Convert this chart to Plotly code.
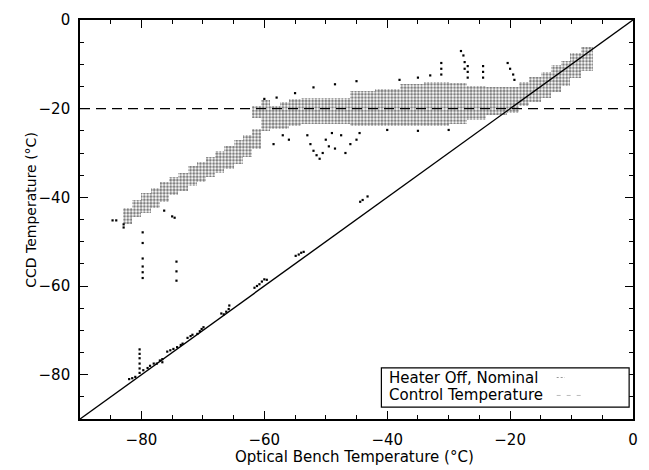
import plotly.graph_objects as go

# ---------------- data ----------------
# dense band of CCD vs optical-bench temperature, read as column blocks
band_x0 = [-83.0, -81.5, -80.0, -78.5, -77.0, -75.5, -74.0, -72.5, -71.0, -69.5,
           -68.0, -66.5, -65.0, -63.5, -62.0, -62.0, -60.5, -59.0, -57.5, -56.0,
           -54.0, -46.0, -42.0, -38.0, -34.0, -30.0, -27.0, -24.0, -20.5, -18.5,
           -17.0, -15.0, -13.4, -11.8, -10.2, -8.5]
band_x1 = [-81.5, -80.0, -78.5, -77.0, -75.5, -74.0, -72.5, -71.0, -69.5, -68.0,
           -66.5, -65.0, -63.5, -62.0, -60.5, -60.5, -59.0, -57.5, -56.0, -54.0,
           -46.0, -42.0, -38.0, -34.0, -30.0, -27.0, -24.0, -20.5, -18.5, -17.0,
           -15.0, -13.4, -11.8, -10.2, -8.5, -6.5]
band_lo = [-46.0, -44.5, -43.5, -42.5, -41.0, -39.5, -38.5, -37.5, -36.5, -35.5,
           -34.5, -33.5, -32.5, -31.0, -29.0, -22.0, -25.0, -24.5, -24.5, -24.0,
           -23.5, -24.0, -24.0, -24.0, -24.0, -23.5, -22.5, -21.5, -21.0, -19.5,
           -18.5, -17.5, -16.2, -14.8, -13.0, -11.5]
band_hi = [-42.5, -40.5, -39.0, -37.8, -36.5, -35.5, -34.5, -33.0, -32.0, -31.0,
           -29.5, -28.5, -27.0, -26.0, -24.5, -19.5, -18.0, -19.5, -18.5, -17.8,
           -17.5, -16.0, -15.5, -14.5, -14.0, -14.2, -14.8, -15.0, -15.2, -14.0,
           -12.8, -11.8, -10.2, -9.2, -7.5, -6.2]

# isolated samples (heater off near the diagonal, outliers and spikes)
pts_x = [-82.0, -81.5, -81.0, -80.3, -80.3, -80.3, -80.3, -80.3, -80.3, -79.7,
         -79.0, -78.6, -78.0, -77.5, -77.0, -76.6, -76.6, -75.8, -75.3, -74.8,
         -74.2, -73.6, -73.3, -72.5, -72.0, -71.7, -70.9, -70.5, -70.2, -69.9,
         -67.0, -66.6, -66.2, -65.8, -65.7, -61.6, -61.2, -60.8, -60.4, -60.0,
         -59.6, -54.9, -54.4, -54.0, -53.6, -44.4, -44.0, -43.2,
         -79.8, -79.8, -79.8, -79.8, -79.8, -79.8, -74.3, -74.3, -74.3,
         -84.7, -84.1, -82.9, -82.9, -76.3, -75.0, -74.6,
         -31.2, -31.2, -31.2, -28.0, -27.6, -27.4, -27.4, -26.9, -26.9, -26.9,
         -24.4, -24.4, -24.4, -20.4, -20.0, -19.5, -19.3, -45.0, -48.5, -52.0,
         -58.0, -60.0, -55.0, -38.0, -35.0, -33.0,
         -53.0, -52.5, -52.0, -51.5, -51.0, -50.5, -50.0, -49.5, -49.0, -48.5,
         -47.5, -46.8, -46.0, -45.0, -44.5, -56.0, -57.0, -58.5, -35.0, -30.0,
         -40.0]
pts_y = [-81.0, -80.8, -80.5, -79.6, -78.6, -77.5, -76.3, -75.3, -74.3, -79.0,
         -78.5, -78.0, -77.5, -77.5, -76.8, -76.5, -77.2, -74.8, -74.5, -74.2,
         -73.8, -73.3, -73.0, -71.7, -71.3, -71.0, -70.8, -70.2, -69.7, -69.3,
         -66.2, -66.4, -65.8, -65.2, -64.4, -60.4, -60.0, -59.6, -59.0, -58.5,
         -58.6, -53.2, -52.9, -52.5, -52.3, -41.0, -40.6, -39.8,
         -47.9, -50.3, -53.8, -55.6, -56.9, -58.2, -54.5, -56.7, -58.8,
         -45.2, -45.2, -46.1, -46.8, -43.0, -44.3, -44.6,
         -9.7, -11.0, -12.3, -7.0, -8.0, -9.5, -11.0, -10.4, -11.7, -13.0,
         -10.4, -11.7, -13.0, -9.7, -11.0, -12.3, -13.5, -13.8, -14.5, -15.2,
         -17.5, -17.8, -16.5, -13.5, -13.0, -12.5,
         -26.0, -28.0, -29.5, -30.5, -31.3, -30.0, -27.0, -28.5, -25.5, -29.0,
         -26.0, -30.0, -28.0, -27.0, -25.5, -27.0, -26.0, -28.0, -25.0, -24.8,
         -24.8]

control_temp = -20.0
axis_range = [-90, 0]
tick_vals = [-80, -60, -40, -20, 0]
tick_text = ["\u221280", "\u221260", "\u221240", "\u221220", "0"]
legend_labels = ["Heater Off, Nominal", "Control Temperature"]

FONT = "DejaVu Sans, Verdana, sans-serif"

fig = go.Figure()

# band as dot-patterned blocks
fig.add_trace(go.Bar(
    x=[(a + b) / 2 for a, b in zip(band_x0, band_x1)],
    width=[b - a for a, b in zip(band_x0, band_x1)],
    base=band_lo,
    y=[h - l for l, h in zip(band_lo, band_hi)],
    marker=dict(color="rgba(0,0,0,0)", line=dict(width=0),
                pattern=dict(shape=".", fgcolor="black", bgcolor="rgba(0,0,0,0)",
                             size=3.3, solidity=0.55, fillmode="overlay")),
    showlegend=False, hoverinfo="skip"))

fig.add_trace(go.Scatter(x=pts_x, y=pts_y, mode="markers",
                         marker=dict(symbol="square", size=2.2, color="black",
                                     line=dict(width=0)),
                         showlegend=False))

# y = x reference
fig.add_trace(go.Scatter(x=axis_range, y=axis_range, mode="lines",
                         line=dict(color="black", width=1.4), showlegend=False))
# control temperature
fig.add_trace(go.Scatter(x=axis_range, y=[control_temp, control_temp], mode="lines",
                         line=dict(color="black", width=1.2, dash="10px,6px"),
                         showlegend=False))

axis_common = dict(range=axis_range, tickvals=tick_vals, ticktext=tick_text,
                   ticks="inside", ticklen=8, tickwidth=1.2, tickcolor="black",
                   showline=True, linecolor="black", linewidth=1.6, mirror="ticks",
                   showgrid=False, zeroline=False,
                   tickfont=dict(family=FONT, size=15, color="black"),
                   minor=dict(dtick=5, ticks="inside", ticklen=4, tickwidth=1,
                              tickcolor="black", showgrid=False))

fig.update_xaxes(**axis_common, ticklabelstandoff=6)
fig.update_yaxes(**axis_common, ticklabelstandoff=5)

# legend box drawn by hand (labels on the left, samples on the right)
fig.add_shape(type="rect", xref="paper", yref="paper", x0=0.545, x1=0.993,
              y0=0.030, y1=0.128, line=dict(color="black", width=1.2),
              fillcolor="white", layer="above")
fig.add_annotation(xref="paper", yref="paper", x=0.555, y=0.104, xanchor="left",
                   yanchor="middle", showarrow=False, text=legend_labels[0],
                   font=dict(family=FONT, size=15, color="black"))
fig.add_annotation(xref="paper", yref="paper", x=0.555, y=0.059, xanchor="left",
                   yanchor="middle", showarrow=False, text=legend_labels[1],
                   font=dict(family=FONT, size=15, color="black"))
fig.add_shape(type="line", xref="paper", yref="paper", x0=0.862, x1=0.877,
              y0=0.104, y1=0.104, line=dict(color="#999", width=1, dash="2px,2px"),
              layer="above")
fig.add_shape(type="line", xref="paper", yref="paper", x0=0.862, x1=0.914,
              y0=0.059, y1=0.059, line=dict(color="#bbb", width=1, dash="4px,6px"),
              layer="above")

fig.add_annotation(xref="paper", yref="paper", x=0.497, y=-0.096, yanchor="middle",
                   showarrow=False, text="Optical Bench Temperature (\u00b0C)",
                   font=dict(family=FONT, size=15, color="black"))
fig.add_annotation(xref="paper", yref="paper", x=-0.09, y=0.525, xanchor="center",
                   yanchor="middle", showarrow=False, textangle=-90,
                   text="CCD Temperature (\u00b0C)",
                   font=dict(family=FONT, size=14, color="black"))

fig.update_layout(width=649, height=470, margin=dict(l=80, r=13, t=11, b=51),
                  plot_bgcolor="white", paper_bgcolor="white", barmode="overlay",
                  bargap=0, showlegend=False)

fig.write_html("out.html")
